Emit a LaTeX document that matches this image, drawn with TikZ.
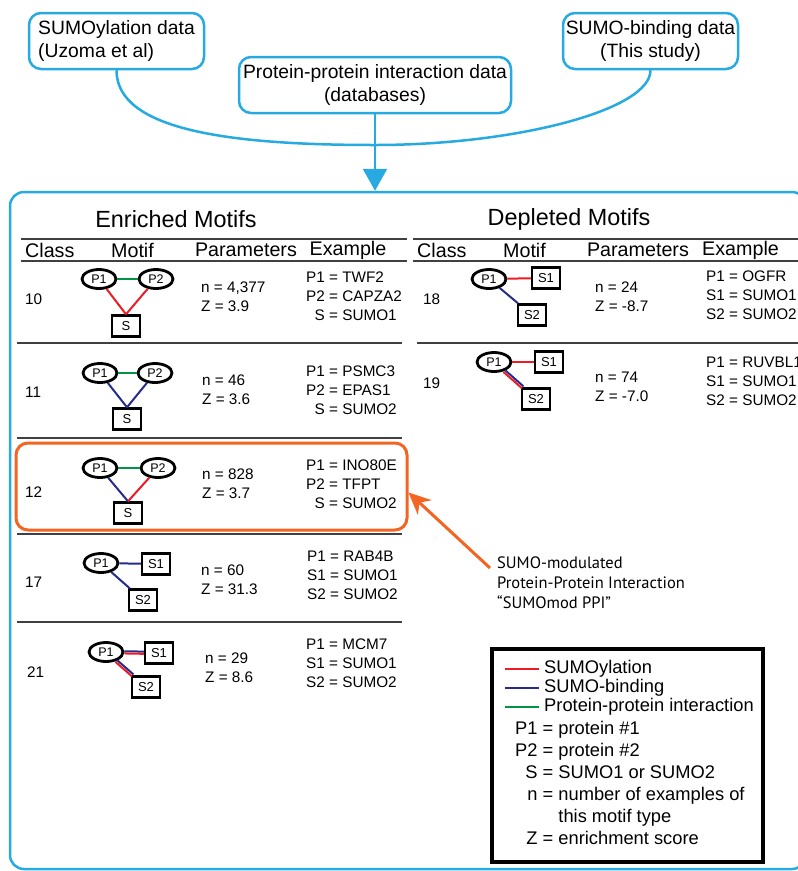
\documentclass[tikz,border=0pt]{standalone}
\usepackage{fontspec}
\setmainfont{Liberation Sans}
\newfontfamily\callfont{PT Sans}
\usetikzlibrary{shapes.geometric,arrows.meta}

\definecolor{flowblue}{RGB}{39,170,225}
\definecolor{hiorange}{RGB}{242,101,34}
\definecolor{sumored}{RGB}{237,28,36}
\definecolor{bindblue}{RGB}{38,44,140}
\definecolor{ppigreen}{RGB}{0,148,68}
\definecolor{rulegray}{RGB}{64,64,64}

\newcommand{\fsz}[2]{\fontsize{#1}{#2}\selectfont}

\tikzset{
  srcbox/.style={draw=flowblue, line width=2.5pt, rounded corners=12pt, minimum height=56pt, inner sep=0pt, font=\fsz{19.3}{23}},
  flow/.style={flowblue, line width=2.5pt},
  prot/.style={ellipse, draw, line width=2.8pt, minimum width=34pt, minimum height=19pt, inner sep=0pt, font=\fsz{12.5}{14}},
  sumo/.style={rectangle, draw, line width=2.4pt, minimum width=28pt, minimum height=21pt, inner sep=0pt, font=\fsz{13}{15}},
  sumoyl/.style={sumored, line width=2pt},
  sbind/.style={bindblue, line width=2pt},
  ppi/.style={ppigreen, line width=2pt},
  upper/.style={transform canvas={xshift=#1*0.8pt, yshift=0.9pt}},
  lower/.style={transform canvas={xshift=-#1*0.8pt, yshift=-0.9pt}},
  title/.style={font=\fsz{23.4}{28}, inner sep=0pt},
  colhead/.style={font=\fsz{19.7}{23}, inner sep=0pt},
  cell/.style={font=\fsz{15.3}{18.8}, align=left, anchor=west, inner sep=0pt},
  keytext/.style={cell, font=\fsz{18.3}{22}},
  hdrline/.style={rulegray, line width=1.6pt},
  rowline/.style={rulegray, line width=1.4pt},
}

\begin{document}
\begin{tikzpicture}[x=1pt,y=-1pt]
\useasboundingbox (0,0) rectangle (798,871);

% data sources
\node[srcbox, minimum width=175pt, align=left] (uzoma) at (116.5,41) {SUMOylation data\\(Uzoma et al)};
\node[srcbox, minimum width=272pt, align=center] (ppidb) at (375,85) {Protein-protein interaction data\\(databases)};
\node[srcbox, minimum width=175pt, align=center] (study) at (650.5,41) {SUMO-binding data\\(This study)};

% results panel
\node[draw=flowblue, line width=2.5pt, rounded corners=14pt, minimum width=796pt, minimum height=677pt, inner sep=0pt] (panel) at (408,530.5) {};
\coordinate (merge) at (375,145);
\draw[flow] (uzoma.south) .. controls +(0,60) and +(-145,0) .. (merge);
\draw[flow] (study.south) .. controls +(0,40) and +(140,0) .. (merge);
\draw[flow, -{Triangle[length=22pt,width=24pt]}] (ppidb.south) -- (ppidb.south |- panel.north);

% table heads
\node[title] (enr) at (176,219) {Enriched Motifs};
\node[title] (dep) at (569,219) {Depleted Motifs};
\node[colhead, anchor=west] (eclass) at (25,250) {Class};
\node[colhead] (emotif) at (132.5,250) {Motif};
\node[colhead] (eparam) at (246,250) {Parameters};
\node[colhead] (eexam) at (348,250) {Example};
\node[colhead, anchor=west] (dclass) at (417,250) {Class};
\node[colhead] (dmotif) at (524.5,250) {Motif};
\node[colhead] (dparam) at (638,250) {Parameters};
\node[colhead, anchor=west] (dexam) at (702,250) {Example};
\foreach \y in {239,261} {
  \draw[hdrline] (21,\y) -- (407,\y);
  \draw[hdrline] (413,\y) -- (806,\y);
}
\foreach \y in {343,438,534,622} \draw[rowline] (17,\y) -- (402,\y);
\draw[rowline] (417,343) -- (806,343);

% class 10
\node[cell] (c10) at (25,299) {10};
\node[prot] (m10a) at (99,279) {P1};
\node[prot] (m10b) at (156,279) {P2};
\node[sumo] (m10s) at (126,326) {S};
\draw[ppi] (m10a) -- (m10b);
\draw[sumoyl] (m10a) -- (m10s.north);
\draw[sumoyl] (m10b) -- (m10s.north);
\node[cell] (p10) at (201,296.5) {n = 4,377\\Z = 3.9};
\node[cell] (x10) at (306,297.5) {\begin{tabular}{@{}r@{\ =\ }l@{}}P1&TWF2\\P2&CAPZA2\\S&SUMO1\end{tabular}};

% class 11
\node[cell] (c11) at (25,392) {11};
\node[prot] (m11a) at (100,373) {P1};
\node[prot] (m11b) at (155,373) {P2};
\node[sumo] (m11s) at (127,419) {S};
\draw[ppi] (m11a) -- (m11b);
\draw[sbind] (m11a) -- (m11s.north);
\draw[sbind] (m11b) -- (m11s.north);
\node[cell] (p11) at (202,389.5) {n = 46\\Z = 3.6};
\node[cell] (x11) at (306,391.5) {\begin{tabular}{@{}r@{\ =\ }l@{}}P1&PSMC3\\P2&EPAS1\\S&SUMO2\end{tabular}};

% class 12, the SUMOmod PPI
\node[draw=hiorange, line width=3pt, rounded corners=12pt, minimum width=391pt, minimum height=87pt, inner sep=0pt] (sumomod) at (211.5,486.5) {};
\node[cell] (c12) at (25,492) {12};
\node[prot] (m12a) at (100,468) {P1};
\node[prot] (m12b) at (158,468) {P2};
\node[sumo] (m12s) at (128,513) {S};
\draw[ppi] (m12a) -- (m12b);
\draw[sbind] (m12a) -- (m12s.north);
\draw[sumoyl] (m12b) -- (m12s.north);
\node[cell] (p12) at (202,484) {n = 828\\Z = 3.7};
\node[cell] (x12) at (306,486) {\begin{tabular}{@{}r@{\ =\ }l@{}}P1&INO80E\\P2&TFPT\\S&SUMO2\end{tabular}};

% class 17
\node[cell] (c17) at (25,582) {17};
\node[prot] (m17a) at (101,563) {P1};
\node[sumo] (m17s) at (156,564) {S1};
\node[sumo] (m17t) at (143,600) {S2};
\draw[sbind] (m17a) -- (m17s);
\draw[sbind] (m17a) -- (m17t);
\node[cell] (p17) at (201,579.5) {n = 60\\Z = 31.3};
\node[cell] (x17) at (307,577) {\begin{tabular}{@{}r@{\ =\ }l@{}}P1&RAB4B\\S1&SUMO1\\S2&SUMO2\end{tabular}};

% class 21
\node[cell] (c21) at (27,672) {21};
\node[prot] (m21a) at (106,652) {P1};
\node[sumo] (m21s) at (159,653) {S1};
\node[sumo] (m21t) at (146,687) {S2};
\draw[sbind, transform canvas={yshift=1.1pt}] (m21a) -- (m21s);
\draw[sumoyl, transform canvas={yshift=-1.1pt}] (m21a) -- (m21s);
\draw[sbind, upper=1] (m21a) -- (m21t);
\draw[sumoyl, lower=1] (m21a) -- (m21t);
\node[cell] (p21) at (205,667.5) {n = 29\\Z = 8.6};
\node[cell] (x21) at (306,665) {\begin{tabular}{@{}r@{\ =\ }l@{}}P1&MCM7\\S1&SUMO1\\S2&SUMO2\end{tabular}};

% class 18
\node[cell] (c18) at (423,299) {18};
\node[prot] (m18a) at (489,279) {P1};
\node[sumo] (m18s) at (546,278) {S1};
\node[sumo] (m18t) at (532,315) {S2};
\draw[sumoyl] (m18a) -- (m18s);
\draw[sbind] (m18a) -- (m18t);
\node[cell] (p18) at (595,296.5) {n = 24\\Z = -8.7};
\node[cell] (x18) at (706,297) {\begin{tabular}{@{}r@{\ =\ }l@{}}P1&OGFR\\S1&SUMO1\\S2&SUMO2\end{tabular}};

% class 19
\node[cell] (c19) at (423,383) {19};
\node[prot] (m19a) at (494,362) {P1};
\node[sumo] (m19s) at (549,362) {S1};
\node[sumo] (m19t) at (536,399) {S2};
\draw[sumoyl] (m19a) -- (m19s);
\draw[sbind, upper=1] (m19a) -- (m19t);
\draw[sumoyl, lower=1] (m19a) -- (m19t);
\node[cell] (p19) at (595,387) {n = 74\\Z = -7.0};
\node[cell] (x19) at (706,383) {\begin{tabular}{@{}r@{\ =\ }l@{}}P1&RUVBL1\\S1&SUMO1\\S2&SUMO2\end{tabular}};

% callout
\node[font=\callfont\fsz{16.5}{20}, align=left, anchor=north west, inner sep=0pt] (calltext) at (497,557) {SUMO-modulated\\Protein-Protein Interaction\\“SUMOmod PPI”};
\coordinate (calltail) at (490,568);
\draw[hiorange, line width=3pt, -{Stealth[length=22pt,width=20pt,inset=7pt]}] (calltail) -- ([yshift=-6pt]sumomod.east);

% legend
\node[draw, line width=4pt, minimum width=271pt, minimum height=213pt, inner sep=0pt] (legend) at (627.5,755.5) {};
\foreach \st/\txt [count=\i] in {sumoyl/SUMOylation, sbind/SUMO-binding, ppi/Protein-protein interaction} {
  \node[keytext] (key\i) at (544,650+19*\i) {\txt};
  \draw[\st, line width=2.5pt] ([xshift=-39pt]key\i.west) -- ([xshift=-5pt]key\i.west);
}
\node[keytext] (defs) at (515,785.5) {\begin{tabular}{@{}r@{\ }c@{\ }l@{}}P1&=&protein \#1\\P2&=&protein \#2\\S&=&SUMO1 or SUMO2\\n&=&number of examples of\\&&this motif type\\Z&=&enrichment score\end{tabular}};
\end{tikzpicture}
\end{document}
